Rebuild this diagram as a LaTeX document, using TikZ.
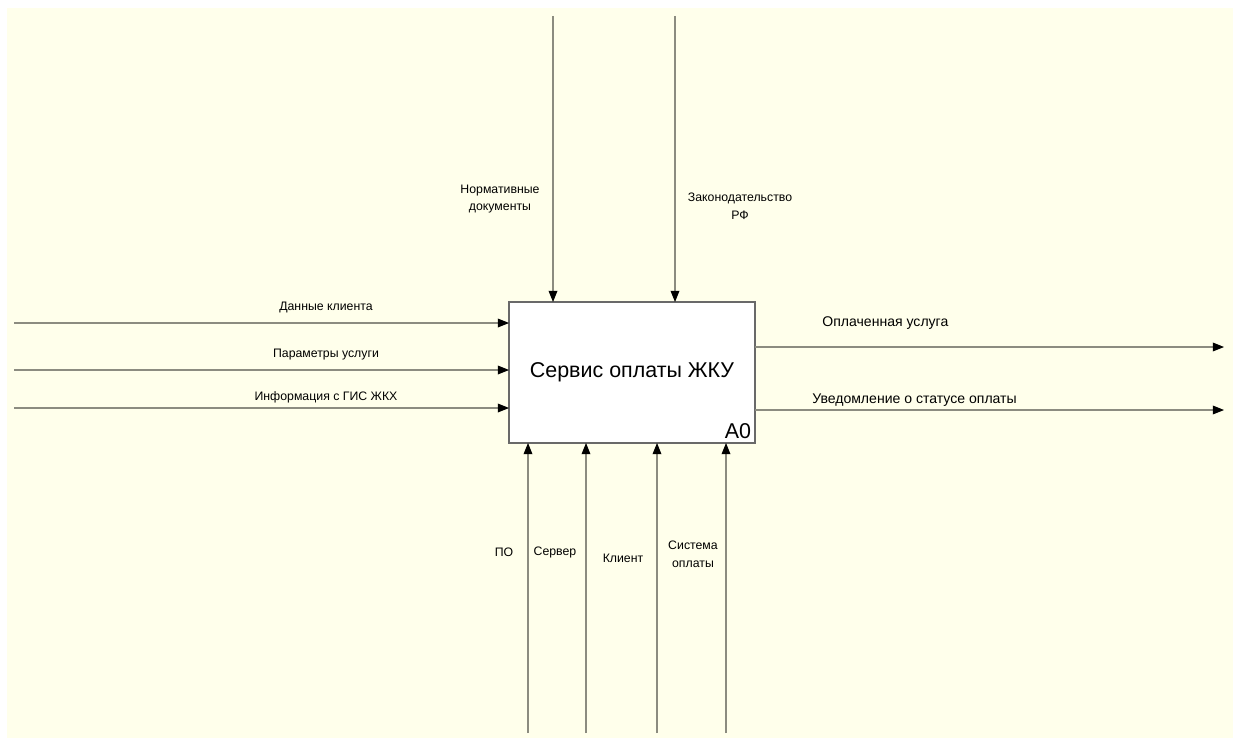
\documentclass[tikz,border=0pt]{standalone}
\usepackage{fontspec}
\setmainfont{Liberation Sans}
\usetikzlibrary{arrows.meta,positioning,calc}
\definecolor{canvas}{RGB}{255,255,235}
\definecolor{wire}{RGB}{140,140,128}
\definecolor{boxline}{RGB}{105,105,105}

\begin{document}
\begin{tikzpicture}[x=0.02cm, y=-0.02cm,
  func/.style={draw=boxline, fill=white, line width=0.8pt, minimum width=4.92cm,
               minimum height=2.82cm, inner sep=0pt, outer sep=0pt,
               font=\fontsize{12.2}{14}\selectfont},
  flow/.style={draw=wire, line width=0.6pt,
               -{Triangle[length=6.4pt, width=5pt, color=black]}},
  lbl/.style={font=\fontsize{7}{10}\selectfont, align=center, inner sep=0pt},
  olbl/.style={font=\fontsize{8}{10}\selectfont, inner sep=0pt, anchor=west},
]
\useasboundingbox (0,0) rectangle (1233,740);
\fill[white] (0,0) rectangle (1233,740);
\fill[canvas] (7,8) rectangle (1233,738);

% the activity box
\node[func] (a0) at (632,372.5) {Сервис оплаты ЖКУ};
\node[font=\fontsize{12.2}{14}\selectfont, anchor=south east, inner sep=2pt] (num) at (a0.south east) {A0};

% inputs
\coordinate (in1) at (14,323);
\coordinate (in2) at (14,370);
\coordinate (in3) at (14,408);
\draw[flow] (in1) -- (in1 -| a0.west);
\draw[flow] (in2) -- (in2 -| a0.west);
\draw[flow] (in3) -- (in3 -| a0.west);
\node[lbl] (lin1) at (326,307) {Данные клиента};
\node[lbl] (lin2) at (326,355) {Параметры услуги};
\node[lbl] (lin3) at (326,397) {Информация с ГИС ЖКХ};

% controls
\coordinate (ct1) at (553,16);
\coordinate (ct2) at (675,16);
\draw[flow] (ct1) -- (ct1 |- a0.north);
\draw[flow] (ct2) -- (ct2 |- a0.north);
\node[lbl] (lct1) at (500,199) {Нормативные\\документы};
\node[lbl] (lct2) at (740,206) {Законодательство\\РФ};

% outputs
\coordinate (out1) at (1224,347);
\coordinate (out2) at (1224,410);
\draw[flow] (out1 -| a0.east) -- (out1);
\draw[flow] (out2 -| a0.east) -- (out2);
\node[olbl] (lout1) at (822,323) {Оплаченная услуга};
\node[olbl] (lout2) at (812,400) {Уведомление о статусе оплаты};

% mechanisms
\coordinate (m1) at (528,733);
\coordinate (m2) at (586,733);
\coordinate (m3) at (657,733);
\coordinate (m4) at (726,733);
\foreach \m in {m1,m2,m3,m4}
  \draw[flow] (\m) -- (\m |- a0.south);
\node[lbl] (lm1) at (504,552) {ПО};
\node[lbl] (lm2) at (555,552) {Сервер};
\node[lbl] (lm3) at (623,558) {Клиент};
\node[lbl] (lm4) at (693,554) {Система\\оплаты};
\end{tikzpicture}
\end{document}
